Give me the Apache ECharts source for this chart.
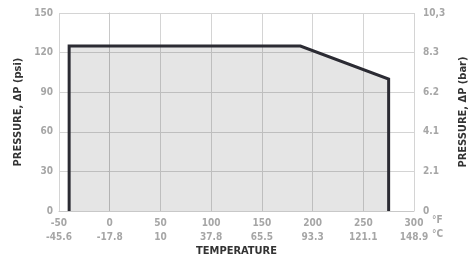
<!DOCTYPE html>
<html>
<head>
<meta charset="utf-8">
<script src="https://cdn.jsdelivr.net/npm/echarts@6/dist/echarts.min.js"></script>
<style>
  html, body { margin: 0; padding: 0; background: #fff; }
  #chart { width: 475px; height: 255px; }
</style>
</head>
<body>
<div id="chart"></div>
<script>
// temperature (F) / pressure (psi) outline of the operating envelope
const tempF = [-40, -40, 188, 275, 275]
const pressPsi = [0, 125, 125, 100, 0]

// tick labels
const fTicks = [-50, 0, 50, 100, 150, 200, 250, 300]
const cTicks = ['-45.6', '-17.8', '10', '37.8', '65.5', '93.3', '121.1', '148.9']
const barTicks = ['0', '2.1', '4.1', '6.2', '8.3', '10,3']

const font = '"Liberation Sans Narrow", "DejaVu Sans Condensed", sans-serif'
const tickColor = '#a6a6a6'
const titleColor = '#333'

const chart = echarts.init(document.getElementById('chart'))

const option = {
  animation: false,
  grid: { left: 59, right: 61, top: 13, bottom: 44, outerBoundsMode: 'none', containLabel: false },
  xAxis: {
    type: 'value',
    min: -50,
    max: 300,
    interval: 50,
    name: 'TEMPERATURE',
    nameLocation: 'middle',
    nameGap: 35,
    nameMoveOverlap: false,
    nameTextStyle: { fontFamily: font, fontWeight: 'bold', fontSize: 11, color: titleColor },
    axisLine: { show: true, lineStyle: { color: '#c8c8c8', width: 1 } },
    axisTick: { show: false },
    splitLine: { show: true, lineStyle: { color: '#d4d4d4', width: 1 } },
    axisLabel: {
      margin: 5,
      lineHeight: 14,
      fontFamily: font,
      fontWeight: 'bold',
      fontSize: 10,
      color: tickColor,
      formatter: function (v) {
        const i = fTicks.indexOf(v)
        return v + '\n' + (i >= 0 ? cTicks[i] : '')
      }
    }
  },
  yAxis: [
    {
      type: 'value',
      min: 0,
      max: 150,
      interval: 30,
      position: 'left',
      name: 'PRESSURE, ΔP (psi)',
      nameLocation: 'middle',
      nameGap: 34,
      nameRotate: 90,
      nameTextStyle: { fontFamily: font, fontWeight: 'bold', fontSize: 11, color: titleColor },
      axisLine: { show: true, lineStyle: { color: '#c8c8c8', width: 1 } },
      axisTick: { show: true, length: 2, lineStyle: { color: '#c8c8c8' } },
      splitLine: { show: true, lineStyle: { color: '#d4d4d4', width: 1 } },
      axisLabel: { margin: 6, fontFamily: font, fontWeight: 'bold', fontSize: 10, color: tickColor }
    },
    {
      type: 'value',
      min: 0,
      max: 150,
      interval: 30,
      position: 'right',
      name: 'PRESSURE, ΔP (bar)',
      nameLocation: 'middle',
      nameGap: 44,
      nameRotate: 90,
      nameTextStyle: { fontFamily: font, fontWeight: 'bold', fontSize: 11, color: titleColor },
      axisLine: { show: false },
      axisTick: { show: false },
      splitLine: { show: false },
      axisLabel: {
        margin: 9,
        fontFamily: font,
        fontWeight: 'bold',
        fontSize: 10,
        color: tickColor,
        formatter: function (v) { return barTicks[Math.round(v / 30)] }
      }
    }
  ],
  graphic: [
    { type: 'text', left: 432, top: 215, style: { text: '°F', font: 'bold 10px ' + font, fill: tickColor } },
    { type: 'text', left: 432, top: 229, style: { text: '°C', font: 'bold 10px ' + font, fill: tickColor } }
  ],
  series: [
    {
      type: 'line',
      data: tempF.map((t, i) => [t, pressPsi[i]]),
      showSymbol: false,
      lineStyle: { color: '#2b2b33', width: 3, join: 'miter' },
      areaStyle: { color: 'rgba(0,0,0,0.145)', origin: 'start' }
    }
  ]
}

chart.setOption(option)
</script>
</body>
</html>
